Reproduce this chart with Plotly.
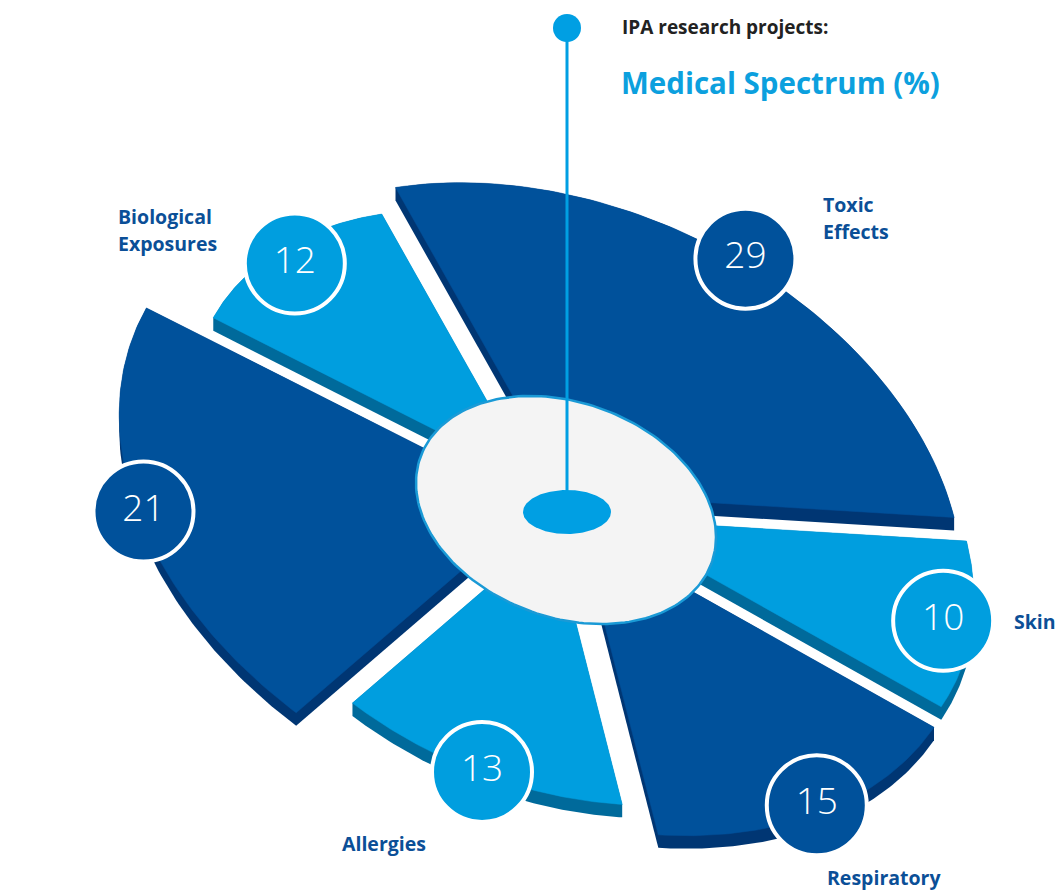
import numpy as np
import plotly.graph_objects as go

# ---------------- data ----------------
categories = ["Toxic<br>Effects", "Skin", "Respiratory", "Allergies", "Cancer", "Biological<br>Exposures"]
values = [29, 10, 15, 13, 21, 12]
title_small = "IPA research projects:"
title_big = "Medical Spectrum (%)"

# ---------------- style ----------------
DARK, LIGHT = "#00519B", "#009EDF"
DARK_SIDE, LIGHT_SIDE = "#003673", "#006A9B"
top_colors = [DARK, LIGHT, DARK, LIGHT, DARK, LIGHT]
side_colors = [DARK_SIDE, LIGHT_SIDE, DARK_SIDE, LIGHT_SIDE, DARK_SIDE, LIGHT_SIDE]
outer_r = [0.938, 0.873, 0.925, 0.826, 0.995, 0.808]     # relative radius of each slice
bubble_r = [1.0, 0.918, 0.98, 0.908, 1.037, 0.855]       # relative radius of each value bubble
label_offsets = [(76, -41), (115, 1), (8, 72), (-142, 72), (-148, 2), (-179, -33)]
label_anchor = ["left", "right", "left", "left", "left", "left"]
LABEL_COLOR = "#0B4F97"
LINE_GAP = 27
W, H = 1063, 891
CX, CY = 560, 505                  # pie centre on screen
AX, AY = 420.0, 91.0               # image of plane u axis
BX, BY = 0.0, -319.3               # image of plane v axis
START = 116.0                      # start angle (deg), clockwise
GAP = 0.07                         # explode gap (plane units)
THICK = 13                         # extrusion depth (px)
HOLE_C = (566, 510)
HOLE_A = (150.0, 27.0)
HOLE_B = (0.0, -110.8)


def to_screen(u, v):
    return CX + AX * u + BX * v, CY + AY * u + BY * v


def hull(points):
    pts = sorted(set(map(tuple, np.round(points, 3))))
    def cross(o, a, b):
        return (a[0] - o[0]) * (b[1] - o[1]) - (a[1] - o[1]) * (b[0] - o[0])
    lower, upper = [], []
    for p in pts:
        while len(lower) >= 2 and cross(lower[-2], lower[-1], p) <= 0:
            lower.pop()
        lower.append(p)
    for p in reversed(pts):
        while len(upper) >= 2 and cross(upper[-2], upper[-1], p) <= 0:
            upper.pop()
        upper.append(p)
    h = lower[:-1] + upper[:-1]
    return np.array(h + [h[0]])


fig = go.Figure()

total = float(sum(values))
spans = [v / total * 360.0 for v in values]
a_start = START
sectors = []
for i, sp in enumerate(spans):
    a0 = a_start
    a1 = a_start - sp
    mid = np.radians((a0 + a1) / 2)
    shift = (GAP / 2) / np.sin(np.radians(sp / 2))
    su, sv = shift * np.cos(mid), shift * np.sin(mid)
    t = np.radians(np.linspace(a0, a1, 90))
    R = outer_r[i]
    u = np.concatenate([[su], su + R * np.cos(t), [su]])
    v = np.concatenate([[sv], sv + R * np.sin(t), [sv]])
    x, y = to_screen(u, v)
    rb = bubble_r[i]
    cpos = to_screen(rb * np.cos(mid), rb * np.sin(mid))
    sectors.append((x, y, cpos))
    a_start = a1

# extrusion sides
for i, (x, y, _) in enumerate(sectors):
    pts = np.vstack([np.column_stack([x, y]), np.column_stack([x, y + THICK])])
    h = hull(pts)
    fig.add_trace(go.Scatter(x=h[:, 0], y=h[:, 1], mode="lines", fill="toself",
                             fillcolor=side_colors[i], line=dict(width=0, color=side_colors[i]),
                             hoverinfo="skip", showlegend=False))
# top faces
for i, (x, y, _) in enumerate(sectors):
    fig.add_trace(go.Scatter(x=x, y=y, mode="lines", fill="toself",
                             fillcolor=top_colors[i], line=dict(width=0.5, color=top_colors[i]),
                             hoverinfo="skip", showlegend=False))

# central hole
tt = np.linspace(0, 2 * np.pi, 200)
hx = HOLE_C[0] + HOLE_A[0] * np.cos(tt) + HOLE_B[0] * np.sin(tt)
hy = HOLE_C[1] + HOLE_A[1] * np.cos(tt) + HOLE_B[1] * np.sin(tt)
fig.add_trace(go.Scatter(x=hx, y=hy, mode="lines", fill="toself", fillcolor="#F4F4F4",
                         line=dict(width=2.5, color="#1A9AD6"), hoverinfo="skip", showlegend=False))

# pointer line with dot
fig.add_trace(go.Scatter(x=[567, 567], y=[28, 505], mode="lines",
                         line=dict(width=3, color="#009FE3"), hoverinfo="skip", showlegend=False))
fig.add_trace(go.Scatter(x=[567], y=[28], mode="markers",
                         marker=dict(size=28, color="#009FE3"), hoverinfo="skip", showlegend=False))
ex = 567 + 44 * np.cos(tt)
ey = 512 + 22 * np.sin(tt)
fig.add_trace(go.Scatter(x=ex, y=ey, mode="lines", fill="toself", fillcolor="#009FE3",
                         line=dict(width=0, color="#009FE3"), hoverinfo="skip", showlegend=False))

# value bubbles
cx = [s[2][0] for s in sectors]
cy = [s[2][1] for s in sectors]
fig.add_trace(go.Scatter(
    x=cx, y=cy, mode="markers+text", text=[str(v) for v in values],
    textposition="middle center",
    textfont=dict(family="Open Sans", size=37, color="white", weight=300),
    marker=dict(size=100, color=top_colors, line=dict(width=4, color="white")),
    hoverinfo="skip", showlegend=False))

# category labels (one annotation per line for tighter control of leading)
for i, cat in enumerate(categories):
    dx, dy = label_offsets[i]
    lines = cat.split("<br>")
    n = len(lines)
    for j, ln in enumerate(lines):
        fig.add_annotation(x=cx[i] + dx, y=cy[i] + dy + (j - (n - 1) / 2) * LINE_GAP, text=ln,
                           showarrow=False, xanchor=label_anchor[i], yanchor="middle",
                           font=dict(family="Open Sans", size=19.5, color=LABEL_COLOR, weight="bold"))

# titles
fig.add_annotation(x=620, y=27, text=title_small, showarrow=False, xanchor="left", yanchor="middle",
                   font=dict(family="Open Sans", size=19, color="#222222", weight="bold"))
fig.add_annotation(x=619, y=82, text=title_big, showarrow=False, xanchor="left", yanchor="middle",
                   font=dict(family="Open Sans", size=29.5, color="#0CA0DE", weight="bold"))

fig.update_layout(
    width=W, height=H, margin=dict(l=0, r=0, t=0, b=0),
    paper_bgcolor="white", plot_bgcolor="white",
    xaxis=dict(range=[0, W], visible=False, fixedrange=True),
    yaxis=dict(range=[H, 0], visible=False, fixedrange=True),
    showlegend=False,
)

fig.write_html("out.html", config={"displayModeBar": False},
               post_script="document.body.style.margin='0';document.body.style.overflow='hidden';")
